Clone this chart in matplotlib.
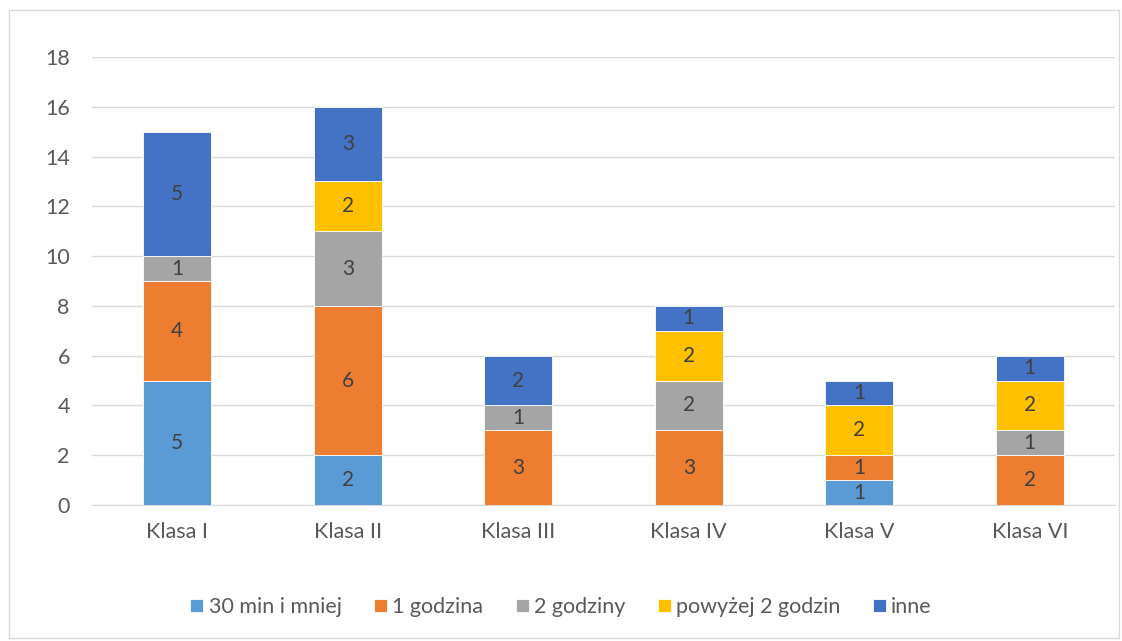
import matplotlib.pyplot as plt
import numpy as np
from matplotlib.patches import Rectangle

plt.rcParams['font.family'] = ['Lato', 'DejaVu Sans']

# data
categories = ["Klasa I", "Klasa II", "Klasa III", "Klasa IV", "Klasa V", "Klasa VI"]
series_names = ["30 min i mniej", "1 godzina", "2 godziny", "powyżej 2 godzin", "inne"]
min30 = [5, 2, 0, 0, 1, 0]
godz1 = [4, 6, 3, 3, 1, 2]
godz2 = [1, 3, 1, 2, 0, 1]
powyzej2 = [0, 2, 0, 2, 2, 2]
inne = [5, 3, 2, 1, 1, 1]
yticks = [0, 2, 4, 6, 8, 10, 12, 14, 16, 18]

colors = ['#5B9BD5', '#ED7D31', '#A5A5A5', '#FFC000', '#4472C4']
values = [min30, godz1, godz2, powyzej2, inne]

fig = plt.figure(figsize=(11.22, 6.41), dpi=100)
ax = fig.add_axes([92 / 1122, 1 - 505 / 641, (1115 - 92) / 1122, (505 - 57) / 641])

x = np.arange(len(categories))
bottom = np.zeros(len(categories))
for name, vals, col in zip(series_names, values, colors):
    vals = np.array(vals, dtype=float)
    ax.bar(x, vals, 0.4, bottom=bottom, color=col, label=name,
           edgecolor='white', linewidth=0.6, zorder=3)
    for xi, b, v in zip(x, bottom, vals):
        if v > 0:
            ax.text(xi, b + v / 2, f"{int(v)}", ha='center', va='center',
                    fontsize=15, color='#404040', zorder=4)
    bottom += vals

ax.set_xlim(-0.5, len(categories) - 0.5)
ax.set_ylim(0, 18)
ax.set_yticks(yticks)
ax.set_xticks(x)
ax.set_xticklabels(categories)
ax.tick_params(axis='both', length=0, labelsize=15.5, colors='#595959')
ax.tick_params(axis='y', pad=16)
ax.tick_params(axis='x', pad=12)
ax.grid(axis='y', color='#D9D9D9', linewidth=1, zorder=0)
for s in ['top', 'right', 'left']:
    ax.spines[s].set_visible(False)
ax.spines['bottom'].set_color('#D9D9D9')

fig.legend(loc='center', bbox_to_anchor=(0.5, 1 - 607 / 641), ncol=5, frameon=False,
           fontsize=15.5, handlelength=0.6, handleheight=0.6, handletextpad=0.25,
           columnspacing=1.5, labelcolor='#595959')

fig.patches.append(Rectangle((9 / 1122, 3 / 641), 1110 / 1122, 628 / 641,
                             transform=fig.transFigure, fill=False,
                             edgecolor='#D9D9D9', linewidth=1))

plt.savefig("out.png")
